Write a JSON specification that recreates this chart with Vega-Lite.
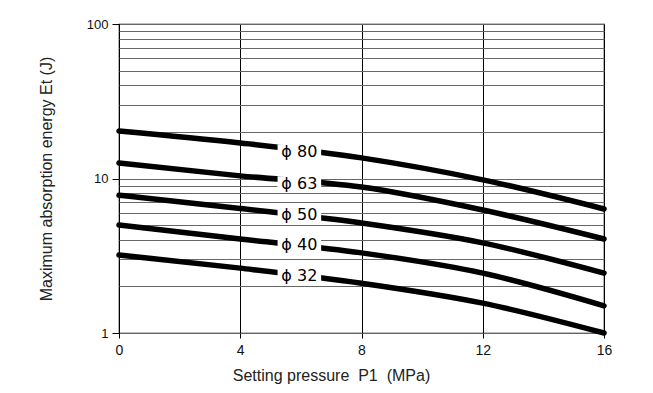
{
  "$schema": "https://vega.github.io/schema/vega-lite/v6.json",
  "width": 485,
  "height": 309,
  "autosize": "none",
  "padding": {"left": 119, "top": 24, "right": 49, "bottom": 60},
  "background": "white",
  "config": {
    "view": {"stroke": "black", "strokeWidth": 1.2},
    "font": "Liberation Sans"
  },
  "datasets": {
    "curves": [
      {"p": 0, "e": 20.3, "size": "φ80"}, {"p": 4, "e": 17.0, "size": "φ80"}, {"p": 8, "e": 13.6, "size": "φ80"}, {"p": 12, "e": 9.8, "size": "φ80"}, {"p": 16, "e": 6.35, "size": "φ80"},
      {"p": 0, "e": 12.6, "size": "φ63"}, {"p": 4, "e": 10.4, "size": "φ63"}, {"p": 8, "e": 8.8, "size": "φ63"}, {"p": 12, "e": 6.25, "size": "φ63"}, {"p": 16, "e": 4.06, "size": "φ63"},
      {"p": 0, "e": 7.8, "size": "φ50"}, {"p": 4, "e": 6.4, "size": "φ50"}, {"p": 8, "e": 5.15, "size": "φ50"}, {"p": 12, "e": 3.83, "size": "φ50"}, {"p": 16, "e": 2.44, "size": "φ50"},
      {"p": 0, "e": 5.0, "size": "φ40"}, {"p": 4, "e": 4.06, "size": "φ40"}, {"p": 8, "e": 3.3, "size": "φ40"}, {"p": 12, "e": 2.44, "size": "φ40"}, {"p": 16, "e": 1.5, "size": "φ40"},
      {"p": 0, "e": 3.2, "size": "φ32"}, {"p": 4, "e": 2.63, "size": "φ32"}, {"p": 8, "e": 2.1, "size": "φ32"}, {"p": 12, "e": 1.56, "size": "φ32"}, {"p": 16, "e": 1.0, "size": "φ32"}
    ],
    "labels": [
      {"p": 5.95, "e": 14.8, "label": "ϕ 80"},
      {"p": 5.95, "e": 9.2, "label": "ϕ 63"},
      {"p": 5.95, "e": 5.8, "label": "ϕ 50"},
      {"p": 5.95, "e": 3.7, "label": "ϕ 40"},
      {"p": 5.95, "e": 2.34, "label": "ϕ 32"}
    ]
  },
  "layer": [
    {
      "data": {"name": "curves"},
      "mark": {"type": "line", "color": "black", "strokeWidth": 5.5, "interpolate": "monotone", "strokeCap": "round", "clip": false},
      "encoding": {
        "detail": {"field": "size", "type": "nominal"},
        "x": {
          "field": "p", "type": "quantitative",
          "scale": {"domain": [0, 16], "nice": false},
          "axis": {
            "values": [0, 4, 8, 12, 16],
            "title": "Setting pressure\u00a0\u00a0P1\u00a0\u00a0(MPa)",
            "titleFont": "Liberation Sans",
            "titleFontSize": 16, "titleFontWeight": "normal", "titleColor": "#222",
            "titlePadding": 10,
            "titleX": 212,
            "labelFont": "Liberation Sans",
            "labelFontSize": 14, "labelColor": "#111", "labelPadding": 5,
            "grid": true, "gridColor": "black", "gridWidth": 1, "gridOpacity": 1,
            "domain": false, "tickColor": "black", "tickSize": 5,
            "labelFlush": false
          }
        },
        "y": {
          "field": "e", "type": "quantitative",
          "scale": {"type": "log", "domain": [1, 100], "nice": false},
          "axis": {
            "values": [1, 2, 3, 4, 5, 6, 7, 8, 9, 10, 20, 30, 40, 50, 60, 70, 80, 90, 100],
            "labelExpr": "datum.value == 1 || datum.value == 10 || datum.value == 100 ? datum.value : ''",
            "title": "Maximum absorption energy Et (J)",
            "titleFont": "Liberation Sans",
            "titleFontSize": 16, "titleFontWeight": "normal", "titleColor": "#222",
            "titlePadding": 32,
            "labelFont": "Liberation Sans",
            "labelFontSize": 13, "labelColor": "#111", "labelPadding": 4,
            "grid": true, "gridColor": "#666", "gridWidth": 1,
            "domain": false, "tickColor": "black", "tickSize": 7,
            "tickOpacity": {"condition": {"test": "datum.value == 1 || datum.value == 10 || datum.value == 100", "value": 1}, "value": 0},
            "labelFlush": false, "labelOverlap": false
          }
        }
      }
    },
    {
      "data": {"name": "labels"},
      "mark": {"type": "point", "shape": "M-1,-0.36L1,-0.36L1,0.36L-1,0.36Z", "size": 1900, "filled": true, "color": "white", "opacity": 1},
      "encoding": {
        "x": {"field": "p", "type": "quantitative"},
        "y": {"field": "e", "type": "quantitative"}
      }
    },
    {
      "data": {"name": "labels"},
      "mark": {"type": "text", "font": "DejaVu Sans", "fontSize": 16, "color": "black", "align": "center", "baseline": "middle"},
      "encoding": {
        "x": {"field": "p", "type": "quantitative"},
        "y": {"field": "e", "type": "quantitative"},
        "text": {"field": "label"}
      }
    }
  ]
}
